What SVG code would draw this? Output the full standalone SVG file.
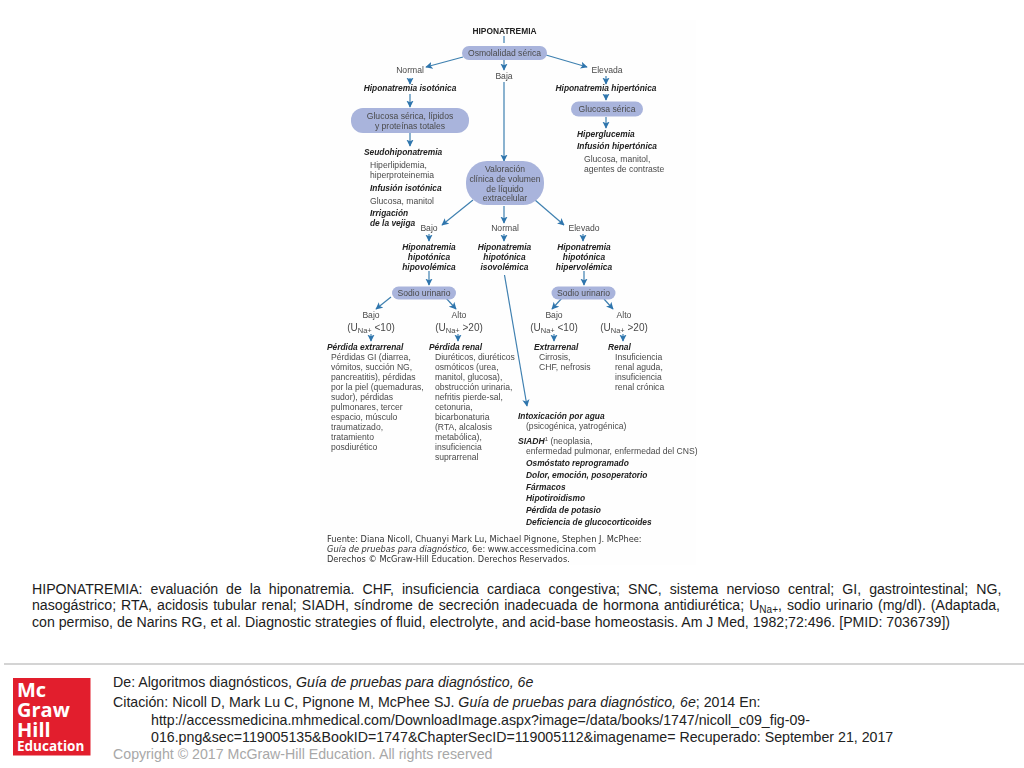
<svg xmlns="http://www.w3.org/2000/svg" width="1024" height="768" viewBox="0 0 1024 768">
<defs>
<marker id="a" viewBox="0 0 10 10" refX="9" refY="5" markerWidth="6" markerHeight="6" orient="auto"><path d="M0 0L10 5L0 10L2.500 5Z" fill="#2f75ad"/></marker>
<filter id="soft" x="0" y="0" width="1" height="1"><feGaussianBlur stdDeviation="0.35"/></filter>
</defs>
<style>
text{font-family:"Liberation Sans",Arial,sans-serif}
.d text{font-size:8.6px;fill:#4a4a4a}
.d .b{font-weight:700;font-style:italic;fill:#222;font-size:8.4px}
.m{text-anchor:middle}
.n{fill:#a9b4dc}
.c line{stroke:#3f80b0;stroke-width:1.2;fill:none;marker-end:url(#a)}
.p text{font-size:14.15px;fill:#1c1c1c}
.f text{font-size:14.2px;fill:#222}
.s text{font-size:8.28px;fill:#333;font-family:"DejaVu Sans",sans-serif}
</style>
<rect width="1024" height="768" fill="#fff"/>
<rect x="320" y="20" width="376" height="545" fill="#fefefe"/>
<g filter="url(#soft)">
<g class="c" id="connectors">
<line x1="504" y1="36" x2="504" y2="43" style="marker-end:none"/>
<line x1="463" y1="57" x2="426" y2="67"/>
<line x1="504" y1="60" x2="504" y2="70"/>
<line x1="546" y1="55" x2="587" y2="67"/>
<line x1="410" y1="78" x2="410" y2="84"/>
<line x1="410" y1="94" x2="410" y2="107"/>
<line x1="410" y1="133" x2="410" y2="146"/>
<line x1="504" y1="82" x2="504" y2="161"/>
<line x1="606" y1="76" x2="606" y2="84"/>
<line x1="606" y1="94" x2="606" y2="100"/>
<line x1="606" y1="117" x2="606" y2="128"/>
<line x1="473" y1="200" x2="442" y2="225"/>
<line x1="504" y1="206" x2="504" y2="223"/>
<line x1="535" y1="200" x2="564" y2="225"/>
<line x1="429" y1="234" x2="429" y2="241"/>
<line x1="504" y1="234" x2="504" y2="241"/>
<line x1="583" y1="234" x2="583" y2="241"/>
<line x1="429" y1="271" x2="429" y2="285"/>
<line x1="584" y1="271" x2="584" y2="285"/>
<line x1="391" y1="297" x2="376" y2="309"/>
<line x1="446" y1="298" x2="456" y2="309"/>
<line x1="562" y1="298" x2="552" y2="309"/>
<line x1="604" y1="299" x2="613" y2="309"/>
<line x1="371" y1="334" x2="371" y2="341"/>
<line x1="458" y1="334" x2="458" y2="341"/>
<line x1="554" y1="334" x2="554" y2="341"/>
<line x1="623" y1="334" x2="623" y2="341"/>
<line x1="504.500" y1="275" x2="527" y2="406"/>
</g>
<g class="d">
<g id="n-title"><text x="504.500" y="34" class="m" style="font-weight:700;font-size:8.400px;fill:#222">HIPONATREMIA</text></g>
<g id="n-osm"><rect class="n" x="462" y="46" width="85" height="14" rx="7"/><text x="504.500" y="56" class="m">Osmolalidad sérica</text></g>
<g id="n-normal"><text x="410" y="73" class="m">Normal</text></g>
<g id="n-baja"><text x="504" y="79" class="m">Baja</text></g>
<g id="n-elevada"><text x="607" y="73" class="m">Elevada</text></g>
<g id="n-isot"><text x="410" y="91" class="m b">Hiponatremia isotónica</text></g>
<g id="n-hipert"><text x="606" y="91" class="m b">Hiponatremia hipertónica</text></g>
<g id="n-glu"><rect class="n" x="351" y="108" width="118" height="25" rx="12"/><text x="410" y="119" class="m">Glucosa sérica, lípidos</text><text x="410" y="129" class="m">y proteínas totales</text></g>
<g id="n-gs"><rect class="n" x="571" y="101.500" width="72" height="15" rx="7.500"/><text x="607" y="112" class="m">Glucosa sérica</text></g>
<g id="n-seudo">
<text x="364" y="155" class="b">Seudohiponatremia</text>
<text x="370" y="168">Hiperlipidemia,</text>
<text x="370" y="178">hiperproteinemia</text>
<text x="370" y="191" class="b">Infusión isotónica</text>
<text x="370" y="204">Glucosa, manitol</text>
<text x="370" y="216" class="b">Irrigación</text>
<text x="370" y="226" class="b">de la vejiga</text>
</g>
<g id="n-hiperg">
<text x="577" y="137" class="b">Hiperglucemia</text>
<text x="577" y="149" class="b">Infusión hipertónica</text>
<text x="584" y="162">Glucosa, manitol,</text>
<text x="584" y="172">agentes de contraste</text>
</g>
<g id="n-val"><rect class="n" x="466" y="161" width="78" height="44" rx="21"/>
<text x="505" y="172" class="m">Valoración</text><text x="505" y="181.500" class="m">clínica de volumen</text><text x="505" y="191.500" class="m">de líquido</text><text x="505" y="201" class="m">extracelular</text></g>
<g id="n-bajo"><text x="429" y="231" class="m">Bajo</text></g>
<g id="n-normal2"><text x="505" y="231" class="m">Normal</text></g>
<g id="n-elevado"><text x="584" y="231" class="m">Elevado</text></g>
<g id="n-hipo"><text x="429" y="250" class="m b">Hiponatremia</text><text x="429" y="260" class="m b">hipotónica</text><text x="429" y="270" class="m b">hipovolémica</text></g>
<g id="n-iso"><text x="504.500" y="250" class="m b">Hiponatremia</text><text x="504.500" y="260" class="m b">hipotónica</text><text x="504.500" y="270" class="m b">isovolémica</text></g>
<g id="n-hiper"><text x="584" y="250" class="m b">Hiponatremia</text><text x="584" y="260" class="m b">hipotónica</text><text x="584" y="270" class="m b">hipervolémica</text></g>
<g id="n-su1"><rect class="n" x="392" y="286.500" width="64" height="13" rx="6.500"/><text x="424" y="296" class="m">Sodio urinario</text></g>
<g id="n-su2"><rect class="n" x="551.500" y="286.500" width="64" height="13" rx="6.500"/><text x="583.500" y="296" class="m">Sodio urinario</text></g>
<g id="n-b1"><text x="371" y="318" class="m">Bajo</text><text x="371" y="331" class="m" style="font-size:10px">(U<tspan dy="2" font-size="7.500">Na+</tspan><tspan dy="-2"> &lt;10)</tspan></text></g>
<g id="n-a1"><text x="459" y="318" class="m">Alto</text><text x="459" y="331" class="m" style="font-size:10px">(U<tspan dy="2" font-size="7.500">Na+</tspan><tspan dy="-2"> &gt;20)</tspan></text></g>
<g id="n-b2"><text x="554" y="318" class="m">Bajo</text><text x="554" y="331" class="m" style="font-size:10px">(U<tspan dy="2" font-size="7.500">Na+</tspan><tspan dy="-2"> &lt;10)</tspan></text></g>
<g id="n-a2"><text x="624" y="318" class="m">Alto</text><text x="624" y="331" class="m" style="font-size:10px">(U<tspan dy="2" font-size="7.500">Na+</tspan><tspan dy="-2"> &gt;20)</tspan></text></g>
<g id="n-pe">
<text x="327" y="350" class="b">Pérdida extrarrenal</text>
<text x="331" y="360">Pérdidas GI (diarrea,</text>
<text x="331" y="370">vómitos, succión NG,</text>
<text x="331" y="380">pancreatitis), pérdidas</text>
<text x="331" y="390">por la piel (quemaduras,</text>
<text x="331" y="400">sudor), pérdidas</text>
<text x="331" y="410">pulmonares, tercer</text>
<text x="331" y="419.500">espacio, músculo</text>
<text x="331" y="429.500">traumatizado,</text>
<text x="331" y="439.500">tratamiento</text>
<text x="331" y="449.500">posdiurético</text>
</g>
<g id="n-pr">
<text x="429" y="350" class="b">Pérdida renal</text>
<text x="435" y="360">Diuréticos, diuréticos</text>
<text x="435" y="370">osmóticos (urea,</text>
<text x="435" y="380">manitol, glucosa),</text>
<text x="435" y="390">obstrucción urinaria,</text>
<text x="435" y="400">nefritis pierde-sal,</text>
<text x="435" y="410">cetonuria,</text>
<text x="435" y="419.500">bicarbonaturia</text>
<text x="435" y="429.500">(RTA, alcalosis</text>
<text x="435" y="439.500">metabólica),</text>
<text x="435" y="449.500">insuficiencia</text>
<text x="435" y="459.500">suprarrenal</text>
</g>
<g id="n-ex">
<text x="534" y="350" class="b">Extrarrenal</text>
<text x="539" y="360">Cirrosis,</text>
<text x="539" y="370">CHF, nefrosis</text>
</g>
<g id="n-re">
<text x="608" y="350" class="b">Renal</text>
<text x="615" y="360">Insuficiencia</text>
<text x="615" y="370">renal aguda,</text>
<text x="615" y="380">insuficiencia</text>
<text x="615" y="390">renal crónica</text>
</g>
<g id="n-int">
<text x="518" y="419" class="b">Intoxicación por agua</text>
<text x="526" y="429">(psicogénica, yatrogénica)</text>
<text x="518" y="444"><tspan font-weight="700" font-style="italic" fill="#222">SIADH</tspan><tspan dy="-3" font-size="6">1</tspan><tspan dy="3"> (neoplasia,</tspan></text>
<text x="526" y="454">enfermedad pulmonar, enfermedad del CNS)</text>
<text x="526" y="466" class="b">Osmóstato reprogramado</text>
<text x="526" y="478" class="b">Dolor, emoción, posoperatorio</text>
<text x="526" y="489.500" class="b">Fármacos</text>
<text x="526" y="501" class="b">Hipotiroidismo</text>
<text x="526" y="513" class="b">Pérdida de potasio</text>
<text x="526" y="524.500" class="b">Deficiencia de glucocorticoides</text>
</g>
</g>
<g class="s">
<text x="327" y="542">Fuente: Diana Nicoll, Chuanyi Mark Lu, Michael Pignone, Stephen J. McPhee:</text>
<text x="327" y="552"><tspan font-style="italic">Guía de pruebas para diagnóstico,</tspan> 6e: www.accessmedicina.com</text>
<text x="327" y="562">Derechos © McGraw-Hill Education. Derechos Reservados.</text>
</g>
</g>
<g class="p">
<text x="32" y="594" word-spacing="4.07">HIPONATREMIA: evaluación de la hiponatremia. CHF, insuficiencia cardiaca congestiva; SNC, sistema nervioso central; GI, gastrointestinal; NG,</text>
<text x="32" y="610" word-spacing="1.09">nasogástrico; RTA, acidosis tubular renal; SIADH, síndrome de secreción inadecuada de hormona antidiurética; U<tspan dy="3" font-size="10">Na+</tspan><tspan dy="-3">, sodio urinario (mg/dl). (Adaptada,</tspan></text>
<text x="32" y="627">con permiso, de Narins RG, et al. Diagnostic strategies of fluid, electrolyte, and acid-base homeostasis. Am J Med, 1982;72:496. [PMID: 7036739])</text>
</g>
<rect x="4" y="663" width="1020" height="2" fill="#d4d4d4"/>
<g id="logo">
<rect x="13" y="678" width="77.500" height="77.500" fill="#e21e2d"/>
<g fill="#fff" font-weight="700">
<text x="17" y="697" font-size="20" style="font-family:'Open Sans',sans-serif">Mc</text>
<text x="17" y="717" font-size="20" style="font-family:'Open Sans',sans-serif">Graw</text>
<text x="17" y="737" font-size="20" style="font-family:'Open Sans',sans-serif">Hill</text>
<text x="17" y="751" font-size="13.500" style="font-family:'Open Sans',sans-serif">Education</text>
</g>
</g>
<g class="f">
<text x="113" y="687">De: Algoritmos diagnósticos, <tspan font-style="italic">Guía de pruebas para diagnóstico, 6e</tspan></text>
<text x="113" y="707">Citación: Nicoll D, Mark Lu C, Pignone M, McPhee SJ. <tspan font-style="italic">Guía de pruebas para diagnóstico, 6e</tspan>; 2014 En:</text>
<text x="151" y="725">http://accessmedicina.mhmedical.com/DownloadImage.aspx?image=/data/books/1747/nicoll_c09_fig-09-</text>
<text x="151" y="742">016.png&amp;sec=119005135&amp;BookID=1747&amp;ChapterSecID=119005112&amp;imagename= Recuperado: September 21, 2017</text>
<text x="113" y="759" style="fill:#a8a8a8">Copyright © 2017 McGraw-Hill Education. All rights reserved</text>
</g>
</svg>
